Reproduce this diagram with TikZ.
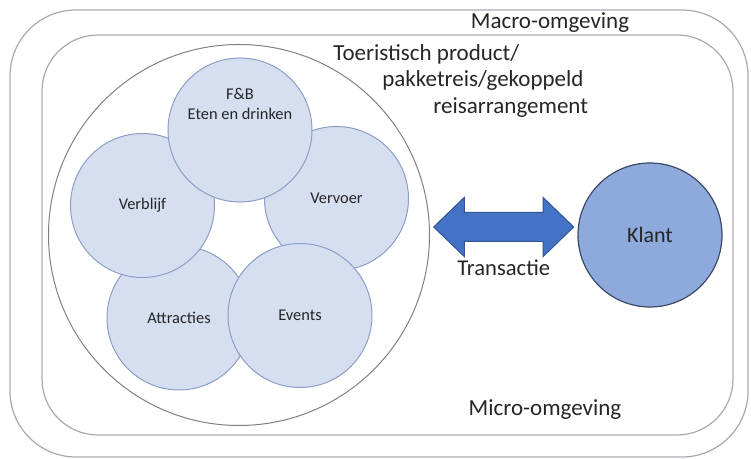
\documentclass[tikz,border=0pt]{standalone}
\usepackage{fontspec}
\setmainfont{Carlito}
\usepackage{tikz}
\usetikzlibrary{
  calc
  , shapes.arrows
}
\definecolor{FrameGray}{HTML}{A6AAB0}
\definecolor{PartFill}{HTML}{D6DFF0}
\definecolor{PartLine}{HTML}{8C9DC6}
\definecolor{KlantFill}{HTML}{8EA9DB}
\definecolor{KlantLine}{HTML}{3B4A66}
\definecolor{ArrowFill}{HTML}{4472C4}
\definecolor{ArrowLine}{HTML}{2F5597}
\definecolor{TextGray}{HTML}{262626}
\tikzset{
  part/.style={
    draw=PartLine,
    fill=PartFill,
    circle,
    line width=0.5pt,
    minimum size=72pt,
    inner sep=0pt,
    text=TextGray,
    font=\fontsize{8.2}{9.6}\selectfont,
  },
  bigtext/.style={
    text=TextGray,
    inner sep=0pt,
    font=\fontsize{11.5}{13.5}\selectfont,
  },
}

\begin{document}
\begin{tikzpicture}[x=0.5pt,y=0.5pt]
      \useasboundingbox (0,0) rectangle (751,459);

      % omgevingen
      \draw[FrameGray, line width=0.6pt, rounded corners=33pt]
      (10,2) rectangle (748,449);
      \draw[FrameGray, line width=0.6pt, rounded corners=28pt]
      (42,24) rectangle (733,424);
      \node[bigtext] (MacroTxt) at (550,436) {Macro-omgeving};
      \node[bigtext] (MicroTxt) at (545,49) {Micro-omgeving};

      % toeristisch product
      \node [draw=gray,
        circle,
        line width=0.5pt,
        minimum size=190.5pt,
        inner sep=0pt,
      ] (Prod) at (239,224){};
      \node[bigtext, anchor=west] (ProdTxtA) at (333,405) {Toeristisch product/};
      \node[bigtext, anchor=west] (ProdTxtB) at (382,378) {pakketreis/gekoppeld};
      \node[bigtext, anchor=west] (ProdTxtC) at (433,351) {reisarrangement};

      \node[part] (Attr) at (179,141) {Attracties};
      \node[part] (Vervoer) at (336.5,260.5) {Vervoer};
      \node[part] (Verblijf) at (142.5,253.5) {Verblijf};
      \node[part] (Events) at (300,143.5) {Events};
      \node[part] (FB) at (240,329) {};
      \node[part, draw=none, fill=none, minimum size=0pt, align=center]
      (FBTxt) at ([yshift=13pt]FB.center) {F\&B\\Eten en drinken};

      % klant
      \node [draw=KlantLine,
        fill=KlantFill,
        circle,
        line width=0.6pt,
        minimum size=72pt,
        inner sep=0pt,
        text=TextGray,
        font=\fontsize{11}{13}\selectfont,
      ] (Klant) at (650,224){Klant};

      \node [draw=ArrowLine,
        fill=ArrowFill,
        double arrow,
        line width=0.5pt,
        inner sep=0pt,
        text height=14pt,
        text depth=0pt,
        minimum height=70pt,
        double arrow head extend=7.5pt,
        double arrow tip angle=88,
      ] (Trans) at ($ (Prod.east)!.5!(Klant.west) + (0,8) $){};
      \node[bigtext, font=\fontsize{11.3}{13}\selectfont]
      (TransTxt) at ([yshift=-20.5pt]Trans.center) {Transactie};

    \end{tikzpicture}
\end{document}
